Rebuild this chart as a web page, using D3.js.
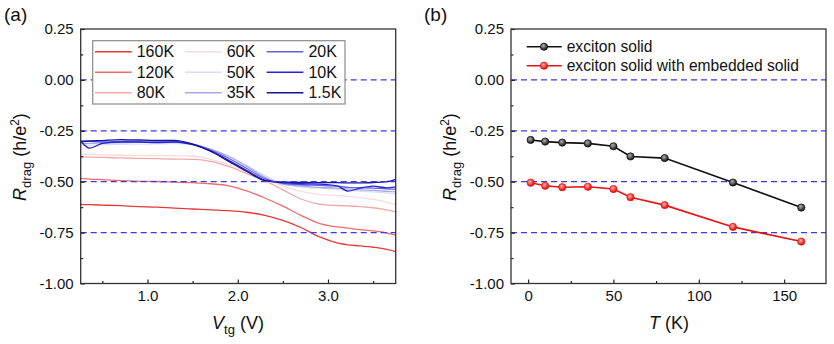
<!DOCTYPE html>
<html><head><meta charset="utf-8">
<script src="https://cdn.jsdelivr.net/npm/d3@7"></script>
<style>body{margin:0;background:#fff}svg{display:block}text{font-family:"Liberation Sans",Arial,sans-serif;fill:#111}</style>
</head><body><svg id="c" width="834" height="344"></svg>
<script>
// ---------- Data: panel (a) ----------
const vtg = [0.26,0.36,0.5,0.7,0.9,1.1,1.3,1.5,1.7,1.9,2.1,2.3,2.5,2.7,2.9,3.1,3.22,3.35,3.5,3.65,3.75];
const r160 = [-0.612,-0.613,-0.615,-0.618,-0.622,-0.625,-0.630,-0.634,-0.638,-0.642,-0.650,-0.665,-0.690,-0.725,-0.770,-0.800,-0.810,-0.815,-0.822,-0.832,-0.843];
const r120 = [-0.484,-0.487,-0.490,-0.495,-0.498,-0.499,-0.502,-0.505,-0.510,-0.520,-0.545,-0.580,-0.620,-0.665,-0.705,-0.722,-0.728,-0.735,-0.742,-0.752,-0.762];
const r80  = [-0.378,-0.379,-0.381,-0.383,-0.385,-0.387,-0.389,-0.390,-0.400,-0.425,-0.460,-0.495,-0.540,-0.585,-0.610,-0.617,-0.619,-0.622,-0.628,-0.638,-0.648];
const r60  = [-0.365,-0.366,-0.368,-0.370,-0.371,-0.372,-0.372,-0.375,-0.390,-0.415,-0.450,-0.485,-0.520,-0.548,-0.562,-0.568,-0.572,-0.578,-0.587,-0.600,-0.612];
const r50  = [-0.320,-0.320,-0.318,-0.316,-0.315,-0.314,-0.313,-0.318,-0.340,-0.375,-0.420,-0.470,-0.510,-0.525,-0.532,-0.537,-0.542,-0.546,-0.550,-0.555,-0.560];
const r35  = [-0.312,-0.312,-0.310,-0.308,-0.307,-0.306,-0.306,-0.315,-0.340,-0.375,-0.425,-0.478,-0.512,-0.522,-0.528,-0.532,-0.536,-0.540,-0.543,-0.547,-0.550];
const r20  = [-0.300,-0.302,-0.305,-0.302,-0.300,-0.302,-0.303,-0.315,-0.345,-0.385,-0.435,-0.485,-0.508,-0.515,-0.518,-0.522,-0.528,-0.530,-0.532,-0.535,-0.538];
const r10  = [-0.300,-0.335,-0.312,-0.305,-0.305,-0.308,-0.305,-0.318,-0.350,-0.395,-0.445,-0.492,-0.505,-0.510,-0.512,-0.520,-0.546,-0.532,-0.522,-0.530,-0.525];
const r1p5 = [-0.303,-0.300,-0.298,-0.293,-0.295,-0.297,-0.297,-0.315,-0.350,-0.400,-0.450,-0.495,-0.502,-0.503,-0.505,-0.505,-0.506,-0.506,-0.504,-0.500,-0.488];
const labelsA = ["160K","120K","80K","60K","50K","35K","20K","10K","1.5K"];
const valuesA = [r160,r120,r80,r60,r50,r35,r20,r10,r1p5];
const colorsA = ["#e3393b","#ec6c6c","#f1a9a9","#f8dcdc","#dcdcf6","#a9a9ea","#6262da","#2424d2","#12129e"];
// ---------- Data: panel (b) ----------
const temps = [1.5,10,20,35,50,60,80,120,160];
const solid = [-0.295,-0.303,-0.308,-0.312,-0.326,-0.376,-0.384,-0.504,-0.627];
const embedded = [-0.505,-0.520,-0.527,-0.525,-0.536,-0.576,-0.615,-0.722,-0.794];
const labelsB = ["exciton solid","exciton solid with embedded solid"];
// ---------- Ticks ----------
const yTicks = [0.25,0,-0.25,-0.5,-0.75,-1.0];
const yMinor = [0.125,-0.125,-0.375,-0.625,-0.875];
const refLines = [0,-0.25,-0.5,-0.75];
const xTicksA = [1.0,2.0,3.0];
const xMinorA = [0.5,1.5,2.5,3.5];
const xTicksB = [0,50,100,150];
const xMinorB = [25,75,125];

const svg = d3.select("#c");
const defs = svg.append("defs");
function grad(id,c0,c1){const g=defs.append("radialGradient").attr("id",id).attr("cx","40%").attr("cy","35%").attr("r","65%");
 g.append("stop").attr("offset","0%").attr("stop-color",c0);g.append("stop").attr("offset","100%").attr("stop-color",c1);}
grad("gBlack","#b0b0b0","#111");
grad("gRed","#ffb0b0","#e00000");

const pTop=29, pBot=283.5;
const y = d3.scaleLinear().domain([-1,0.25]).range([pBot,pTop]);
const xa = d3.scaleLinear().domain([0.26,3.75]).range([80.7,395.7]);
const xb = d3.scaleLinear().domain([-10,174.5]).range([511,826]);
const fmtY = d => d3.format(".2f")(d).replace("\u2212","-");

function frame(x, ticks, minor, fmt){
  const [l,r]=x.range();
  const g=svg.append("g");
  const yax=d3.axisLeft(y).tickValues(yTicks).tickFormat(fmtY).tickSizeInner(-4).tickSizeOuter(0).tickPadding(6);
  const gy=g.append("g").attr("transform",`translate(${l},0)`).call(yax);
  gy.selectAll("text").style("font-size","15px").attr("dx","-1");
  const ym=d3.axisLeft(y).tickValues(yMinor).tickFormat("").tickSizeInner(-2.5).tickSizeOuter(0);
  g.append("g").attr("transform",`translate(${l},0)`).call(ym);
  const xax=d3.axisBottom(x).tickValues(ticks).tickFormat(fmt).tickSizeInner(-4).tickSizeOuter(0).tickPadding(7);
  const gx=g.append("g").attr("transform",`translate(0,${pBot})`).call(xax);
  gx.selectAll("text").style("font-size","15px");
  const xm=d3.axisBottom(x).tickValues(minor).tickFormat("").tickSizeInner(-2.5).tickSizeOuter(0);
  g.append("g").attr("transform",`translate(0,${pBot})`).call(xm);
  g.selectAll(".domain").remove();
  g.selectAll(".tick line").attr("stroke","#222").attr("stroke-width",1.2);
  svg.append("rect").attr("x",l).attr("y",pTop).attr("width",r-l).attr("height",pBot-pTop)
    .attr("fill","none").attr("stroke","#333").attr("stroke-width",1.3);
}
function refs(x){
  const [l,r]=x.range();
  svg.append("g").selectAll("line").data(refLines).join("line")
    .attr("x1",l).attr("x2",r).attr("y1",d=>y(d)).attr("y2",d=>y(d))
    .attr("stroke","#3b3be3").attr("stroke-width",1.2).attr("stroke-dasharray","6,4");
}
function yTitle(cx){
  const t=svg.append("text").attr("transform",`translate(${cx},157) rotate(-90)`).attr("text-anchor","middle").style("font-size","18px");
  t.append("tspan").attr("font-style","italic").text("R");
  t.append("tspan").attr("font-size","13px").attr("dy","5").text("drag");
  t.append("tspan").attr("dy","-5").text(" (h/e");
  t.append("tspan").attr("font-size","12px").attr("dy","-7").text("2");
  t.append("tspan").attr("dy","7").text(")");
}

// ---------- Panel (a) ----------
const lineA = d3.line().x((d,i)=>xa(vtg[i])).y(d=>y(d)).curve(d3.curveMonotoneX);
svg.append("g").selectAll("path").data(valuesA).join("path")
  .attr("d",d=>lineA(d)).attr("fill","none").attr("stroke",(d,i)=>colorsA[i]).attr("stroke-width",1.3);
refs(xa);
frame(xa,xTicksA,xMinorA,d3.format(".1f"));
const lg=svg.append("g");
lg.append("rect").attr("x",92.7).attr("y",40.7).attr("width",252.3).attr("height",63.3).attr("fill","#fff").attr("stroke","#8a8a8a").attr("stroke-width",1.2);
const colX=[95,185,266.7], rowY=[51.7,72.3,92.7];
labelsA.forEach((lab,i)=>{
  const c=Math.floor(i/3), r=i%3;
  lg.append("line").attr("x1",colX[c]).attr("x2",colX[c]+36.7).attr("y1",rowY[r]).attr("y2",rowY[r]).attr("stroke",colorsA[i]).attr("stroke-width",1.5);
  lg.append("text").attr("x",colX[c]+41.7).attr("y",rowY[r]).attr("dy","0.36em").style("font-size","16px").text(lab);
});
svg.append("text").attr("x",4).attr("y",21).style("font-size","19px").text("(a)");
yTitle(26);
{const t=svg.append("text").attr("x",238).attr("y",329).attr("text-anchor","middle").style("font-size","18px");
 t.append("tspan").attr("font-style","italic").text("V");
 t.append("tspan").attr("font-size","13px").attr("dy","5").text("tg");
 t.append("tspan").attr("dy","-5").text(" (V)");}

// ---------- Panel (b) ----------
refs(xb);
const lineB=d3.line().x((d,i)=>xb(temps[i])).y(d=>y(d));
const seriesB=[{v:solid,c:"#111",g:"url(#gBlack)"},{v:embedded,c:"#e81212",g:"url(#gRed)"}];
seriesB.forEach(s=>{
  svg.append("path").attr("d",lineB(s.v)).attr("fill","none").attr("stroke",s.c).attr("stroke-width",1.6);
  svg.append("g").selectAll("circle").data(s.v).join("circle")
    .attr("cx",(d,i)=>xb(temps[i])).attr("cy",d=>y(d)).attr("r",3.6).attr("fill",s.g).attr("stroke",s.c).attr("stroke-width",0.8);
});
frame(xb,xTicksB,xMinorB,d3.format("d"));
const rowB=[46.7,65.7];
labelsB.forEach((lab,i)=>{
  const s=seriesB[i];
  svg.append("line").attr("x1",526.7).attr("x2",561.7).attr("y1",rowB[i]).attr("y2",rowB[i]).attr("stroke",s.c).attr("stroke-width",1.6);
  svg.append("circle").attr("cx",544).attr("cy",rowB[i]).attr("r",3.6).attr("fill",s.g).attr("stroke",s.c).attr("stroke-width",0.8);
  svg.append("text").attr("x",566.7).attr("y",rowB[i]).attr("dy","0.36em").style("font-size","15.6px").text(lab);
});
svg.append("text").attr("x",424).attr("y",21).style("font-size","19px").text("(b)");
yTitle(456);
{const t=svg.append("text").attr("x",669).attr("y",329).attr("text-anchor","middle").style("font-size","18px");
 t.append("tspan").attr("font-style","italic").text("T");
 t.append("tspan").text(" (K)");}
</script></body></html>
